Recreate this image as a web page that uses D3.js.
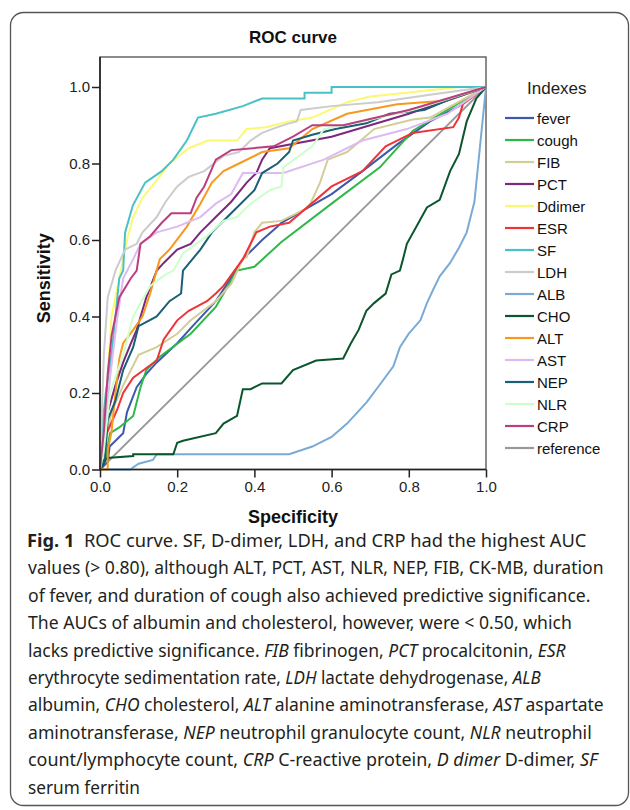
<!DOCTYPE html>
<html>
<head>
<meta charset="utf-8">
<script src="https://cdn.jsdelivr.net/npm/d3@7"></script>
<style>
  body { margin: 0; background: #fff; }
  svg { display: block; }
</style>
</head>
<body>
<svg id="chart" width="630" height="810"></svg>
<script>
// ROC curves, points are [1 - specificity, sensitivity]
const fever = [[0,0],[0.02,0.02],[0.025,0.06],[0.06,0.095],[0.07,0.15],[0.095,0.215],[0.12,0.25],[0.147,0.28],[0.2,0.33],[0.24,0.375],[0.3,0.44],[0.345,0.51],[0.37,0.55],[0.42,0.6],[0.46,0.635],[0.47,0.645],[0.6,0.72],[0.68,0.78],[0.77,0.85],[0.855,0.91],[0.93,0.95],[1,1]];
const cough = [[0,0],[0.015,0.03],[0.026,0.095],[0.05,0.11],[0.086,0.14],[0.105,0.215],[0.12,0.26],[0.155,0.295],[0.235,0.355],[0.3,0.425],[0.355,0.52],[0.4,0.53],[0.47,0.595],[0.6,0.695],[0.725,0.79],[0.81,0.885],[0.9,0.94],[1,1]];
const FIB = [[0,0],[0.01,0.05],[0.03,0.15],[0.06,0.22],[0.1,0.3],[0.147,0.32],[0.2,0.355],[0.235,0.39],[0.3,0.44],[0.34,0.485],[0.37,0.55],[0.38,0.555],[0.4,0.62],[0.42,0.645],[0.47,0.65],[0.53,0.68],[0.545,0.695],[0.57,0.75],[0.59,0.81],[0.64,0.83],[0.71,0.89],[0.81,0.915],[0.855,0.92],[1,1]];
const PCT = [[0,0],[0.01,0.06],[0.02,0.15],[0.04,0.22],[0.06,0.28],[0.08,0.33],[0.095,0.365],[0.12,0.45],[0.147,0.52],[0.165,0.54],[0.2,0.575],[0.235,0.59],[0.26,0.62],[0.3,0.66],[0.34,0.7],[0.38,0.75],[0.405,0.775],[0.42,0.81],[0.44,0.84],[0.6,0.87],[0.8,0.93],[1,1]];
const Ddimer = [[0,0],[0.01,0.1],[0.02,0.25],[0.03,0.4],[0.05,0.5],[0.06,0.55],[0.07,0.6],[0.086,0.66],[0.11,0.71],[0.15,0.76],[0.18,0.8],[0.23,0.84],[0.28,0.86],[0.355,0.86],[0.38,0.89],[0.43,0.895],[0.49,0.91],[0.55,0.92],[0.64,0.96],[0.7,0.975],[0.795,0.985],[0.93,1],[1,1]];
const ESR = [[0,0],[0,0.02],[0.013,0.085],[0.044,0.155],[0.06,0.2],[0.086,0.24],[0.147,0.285],[0.165,0.34],[0.2,0.39],[0.23,0.415],[0.277,0.44],[0.3,0.46],[0.32,0.48],[0.37,0.55],[0.405,0.62],[0.44,0.635],[0.49,0.645],[0.6,0.74],[0.68,0.78],[0.74,0.845],[0.81,0.88],[0.915,0.895],[0.93,0.92],[0.94,0.955],[1,1]];
const SF = [[0,0],[0.005,0.1],[0.015,0.2],[0.03,0.3],[0.04,0.4],[0.05,0.5],[0.06,0.52],[0.065,0.62],[0.085,0.69],[0.117,0.75],[0.16,0.78],[0.19,0.81],[0.225,0.86],[0.254,0.92],[0.3,0.93],[0.37,0.95],[0.42,0.97],[0.53,0.97],[0.53,0.985],[0.6,0.985],[0.6,1],[1,1]];
const LDH = [[0,0],[0.005,0.15],[0.01,0.3],[0.02,0.45],[0.04,0.52],[0.065,0.575],[0.095,0.59],[0.11,0.62],[0.147,0.66],[0.17,0.7],[0.2,0.74],[0.23,0.765],[0.27,0.78],[0.32,0.82],[0.36,0.83],[0.39,0.86],[0.42,0.88],[0.46,0.895],[0.49,0.905],[0.51,0.91],[0.52,0.94],[0.6,0.95],[0.72,0.96],[0.855,0.98],[1,1]];
const ALB = [[0,0],[0.078,0],[0.1,0.015],[0.137,0.025],[0.147,0.04],[0.49,0.04],[0.55,0.06],[0.6,0.085],[0.64,0.12],[0.69,0.175],[0.72,0.215],[0.76,0.27],[0.777,0.32],[0.8,0.355],[0.83,0.39],[0.847,0.435],[0.863,0.47],[0.88,0.505],[0.907,0.54],[0.93,0.58],[0.95,0.62],[0.97,0.7],[0.98,0.8],[0.99,0.9],[1,1]];
const CHO = [[0,0],[0.018,0.03],[0.086,0.035],[0.086,0.04],[0.19,0.04],[0.2,0.07],[0.215,0.075],[0.3,0.095],[0.32,0.12],[0.355,0.14],[0.37,0.21],[0.39,0.21],[0.42,0.225],[0.47,0.225],[0.5,0.26],[0.56,0.285],[0.63,0.29],[0.65,0.33],[0.67,0.365],[0.69,0.415],[0.71,0.435],[0.74,0.46],[0.755,0.51],[0.777,0.52],[0.785,0.55],[0.795,0.59],[0.847,0.685],[0.88,0.705],[0.907,0.78],[0.93,0.825],[0.95,0.91],[0.975,0.97],[1,1]];
const ALT = [[0,0],[0.02,0],[0.02,0.05],[0.03,0.1],[0.04,0.2],[0.05,0.29],[0.06,0.33],[0.086,0.365],[0.11,0.4],[0.13,0.46],[0.155,0.55],[0.18,0.575],[0.225,0.635],[0.26,0.695],[0.29,0.75],[0.32,0.78],[0.36,0.8],[0.42,0.83],[0.49,0.84],[0.55,0.89],[0.64,0.93],[0.77,0.955],[0.9,0.965],[1,1]];
const AST = [[0,0],[0.013,0.11],[0.026,0.24],[0.044,0.39],[0.06,0.5],[0.086,0.55],[0.105,0.59],[0.147,0.62],[0.2,0.635],[0.26,0.66],[0.3,0.695],[0.34,0.72],[0.37,0.775],[0.475,0.775],[0.58,0.81],[0.68,0.86],[0.795,0.89],[0.9,0.93],[1,1]];
const NEP = [[0,0],[0.013,0.03],[0.02,0.13],[0.04,0.18],[0.06,0.26],[0.086,0.32],[0.1,0.375],[0.147,0.4],[0.18,0.44],[0.21,0.46],[0.215,0.52],[0.26,0.575],[0.29,0.62],[0.33,0.66],[0.36,0.69],[0.4,0.73],[0.42,0.775],[0.46,0.8],[0.49,0.83],[0.5,0.86],[0.55,0.875],[0.61,0.89],[0.69,0.905],[0.75,0.93],[0.84,0.94],[0.9,0.965],[1,1]];
const NLR = [[0,0],[0.01,0.05],[0.026,0.2],[0.06,0.3],[0.086,0.4],[0.13,0.48],[0.17,0.51],[0.19,0.52],[0.215,0.565],[0.277,0.61],[0.32,0.65],[0.355,0.66],[0.39,0.695],[0.44,0.73],[0.47,0.74],[0.475,0.79],[0.55,0.845],[0.58,0.89],[0.68,0.91],[0.81,0.94],[1,1]];
const CRP = [[0,0],[0.01,0.1],[0.02,0.25],[0.03,0.35],[0.05,0.45],[0.08,0.5],[0.095,0.52],[0.105,0.59],[0.13,0.61],[0.16,0.645],[0.185,0.67],[0.235,0.67],[0.25,0.71],[0.27,0.74],[0.3,0.81],[0.34,0.835],[0.45,0.845],[0.5,0.87],[0.55,0.9],[0.63,0.9],[0.8,0.94],[1,1]];
const reference = [[0,0],[1,1]];

const seriesNames = ["fever","cough","FIB","PCT","Ddimer","ESR","SF","LDH","ALB","CHO","ALT","AST","NEP","NLR","CRP","reference"];
const seriesData = [fever,cough,FIB,PCT,Ddimer,ESR,SF,LDH,ALB,CHO,ALT,AST,NEP,NLR,CRP,reference];
const tickValues = [0, 0.2, 0.4, 0.6, 0.8, 1.0];

// SPSS default palette
const colors = ["#3e58ac","#2eb848","#d3ce97","#7c287d","#fbf873","#ef3338","#48c2c5","#cccccc","#7aaad5","#0a562c","#f8981d","#ddbaf1","#1a5f76","#ccffcc","#bb3f7f","#999999"];

// caption lines, each piece is [text, style]
const caption = [
  [["Fig. 1", "b"], ["  ROC curve. SF, D-dimer, LDH, and CRP had the highest AUC", ""]],
  [["values (> 0.80), although ALT, PCT, AST, NLR, NEP, FIB, CK-MB, duration", ""]],
  [["of fever, and duration of cough also achieved predictive significance.", ""]],
  [["The AUCs of albumin and cholesterol, however, were < 0.50, which", ""]],
  [["lacks predictive significance. ", ""], ["FIB", "i"], [" fibrinogen, ", ""], ["PCT", "i"], [" procalcitonin, ", ""], ["ESR", "i"]],
  [["erythrocyte sedimentation rate, ", ""], ["LDH", "i"], [" lactate dehydrogenase, ", ""], ["ALB", "i"]],
  [["albumin, ", ""], ["CHO", "i"], [" cholesterol, ", ""], ["ALT", "i"], [" alanine aminotransferase, ", ""], ["AST", "i"], [" aspartate", ""]],
  [["aminotransferase, ", ""], ["NEP", "i"], [" neutrophil granulocyte count, ", ""], ["NLR", "i"], [" neutrophil", ""]],
  [["count/lymphocyte count, ", ""], ["CRP", "i"], [" C-reactive protein, ", ""], ["D dimer", "i"], [" D-dimer, ", ""], ["SF", "i"]],
  [["serum ferritin", ""]]
];
const captionRight = [587, 604, 591, 572, 566, 541, 604, 592, 598, 140];

const arial = "'Liberation Sans', Arial, Helvetica, sans-serif";
const svg = d3.select("#chart");

// outer rounded box
svg.append("rect")
  .attr("x", 10.5).attr("y", 12.5)
  .attr("width", 618).attr("height", 793)
  .attr("rx", 13)
  .attr("fill", "none")
  .attr("stroke", "#555")
  .attr("stroke-width", 1.3);

const x = d3.scaleLinear().domain([0, 1]).range([100, 486]);
const y = d3.scaleLinear().domain([0, 1]).range([469.5, 87]);

// plot frame
svg.append("rect")
  .attr("x", x(0)).attr("y", 57)
  .attr("width", x(1) - x(0)).attr("height", y(0) - 57)
  .attr("fill", "none")
  .attr("stroke", "#666")
  .attr("stroke-width", 1.5);

const line = d3.line().x(d => x(d[0])).y(d => y(d[1]));

// reference goes underneath, the rest in legend order
const order = d3.range(seriesNames.length);
order.unshift(order.pop());
svg.append("g")
  .selectAll("path")
  .data(order)
  .enter()
  .append("path")
  .attr("d", i => line(seriesData[i]))
  .attr("fill", "none")
  .attr("stroke", i => colors[i])
  .attr("stroke-width", i => seriesNames[i] === "reference" ? 1.8 : 2)
  .attr("stroke-linejoin", "miter");

// axes
const yAxis = svg.append("g")
  .attr("transform", "translate(" + x(0) + ",0)")
  .call(d3.axisLeft(y).tickValues(tickValues).tickFormat(d3.format(".1f")).tickSize(8).tickSizeOuter(0).tickPadding(2));
const xAxis = svg.append("g")
  .attr("transform", "translate(0," + y(0) + ")")
  .call(d3.axisBottom(x).tickValues(tickValues).tickFormat(d3.format(".1f")).tickSize(8).tickSizeOuter(0).tickPadding(4));
[yAxis, xAxis].forEach(g => {
  g.attr("font-family", arial).attr("font-size", 15);
  g.select(".domain").remove();
  g.selectAll("line").attr("stroke", "#222").attr("stroke-width", 1.5);
  g.selectAll("text").attr("fill", "#222");
});
svg.append("line")
  .attr("x1", x(0)).attr("x2", x(0)).attr("y1", 57).attr("y2", y(0))
  .attr("stroke", "#222").attr("stroke-width", 1.6);
svg.append("line")
  .attr("x1", x(0)).attr("x2", x(1)).attr("y1", y(0)).attr("y2", y(0))
  .attr("stroke", "#222").attr("stroke-width", 1.6);

// titles
svg.append("text")
  .attr("x", (x(0) + x(1)) / 2).attr("y", 43)
  .attr("text-anchor", "middle")
  .attr("font-family", arial)
  .attr("font-size", 17).attr("font-weight", "bold")
  .attr("fill", "#111")
  .text("ROC curve");
svg.append("text")
  .attr("x", (x(0) + x(1)) / 2).attr("y", 523)
  .attr("text-anchor", "middle")
  .attr("font-family", arial)
  .attr("font-size", 18).attr("font-weight", "bold")
  .attr("fill", "#111")
  .text("Specificity");
svg.append("text")
  .attr("transform", "translate(50," + (y(0) + y(1)) / 2 + ") rotate(-90)")
  .attr("text-anchor", "middle")
  .attr("font-family", arial)
  .attr("font-size", 18).attr("font-weight", "bold")
  .attr("fill", "#111")
  .text("Sensitivity");

// legend
const legend = svg.append("g").attr("transform", "translate(505,0)");
legend.append("text")
  .attr("x", 22).attr("y", 94)
  .attr("font-family", arial)
  .attr("font-size", 17)
  .attr("fill", "#222")
  .text("Indexes");
const item = legend.selectAll(".item")
  .data(seriesNames)
  .enter()
  .append("g")
  .attr("class", "item")
  .attr("transform", (d, i) => "translate(0," + (118 + i * 22) + ")");
item.append("line")
  .attr("x1", 0).attr("x2", 29)
  .attr("stroke", (d, i) => colors[i])
  .attr("stroke-width", 2.2);
item.append("text")
  .attr("x", 32).attr("y", 5.5)
  .attr("font-family", arial)
  .attr("font-size", 15)
  .attr("fill", "#111")
  .text(d => d);

// caption, each line stretched to the width it has in the figure
const cap = svg.append("g");
caption.forEach((pieces, li) => {
  const t = cap.append("text")
    .attr("x", 0).attr("y", 0)
    .attr("font-family", "'Noto Sans', sans-serif")
    .attr("font-size", 17.5)
    .attr("fill", "#231f20")
    .style("white-space", "pre");
  pieces.forEach(p => {
    t.append("tspan")
      .attr("font-weight", p[1] === "b" ? "bold" : "normal")
      .attr("font-style", p[1] === "i" ? "italic" : "normal")
      .text(p[0]);
  });
  const w = t.node().getComputedTextLength();
  const left = li === 0 ? 27 : 28;
  const sx = (captionRight[li] - left) / w;
  t.attr("transform", "translate(" + left + "," + (547 + li * 27.4) + ") scale(" + sx + ",1)");
});
</script>
</body>
</html>
